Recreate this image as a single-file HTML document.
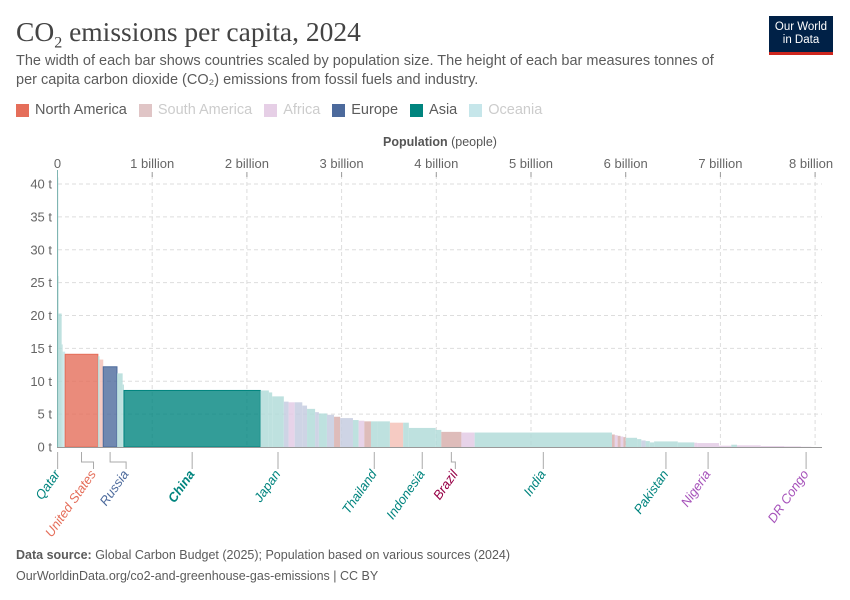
<!DOCTYPE html>
<html><head><meta charset="utf-8">
<style>
body{margin:0;background:#fff;width:850px;height:600px;overflow:hidden;font-family:"Liberation Sans",sans-serif;}
.title{position:absolute;left:16px;top:16px;font-family:"Liberation Serif",serif;font-size:27.5px;color:#444;}
.sub{position:absolute;left:16px;top:52px;width:720px;font-size:14.5px;line-height:19px;color:#5b5b5b;}
.logo{position:absolute;left:769px;top:16px;width:64px;background:#002147;border-bottom:3px solid #ce261e;color:#fff;font-size:11.5px;line-height:13px;text-align:center;padding-top:5px;box-sizing:content-box;height:31px;}
.legend{position:absolute;left:16px;top:102px;font-size:14.5px;display:flex;gap:12px;}
.legend span{display:flex;align-items:center;}
.legend i{display:inline-block;width:13px;height:13px;margin-right:6px;}
.foot{position:absolute;left:16px;font-size:12.5px;color:#5b5b5b;}
</style></head><body>
<div class="title">CO<sub style="font-size:16px">2</sub> emissions per capita, 2024</div>
<div class="sub">The width of each bar shows countries scaled by population size. The height of each bar measures tonnes of per capita carbon dioxide (CO₂) emissions from fossil fuels and industry.</div>
<div class="logo">Our World<br>in Data</div>
<div class="legend">
<span style="color:#5b5b5b"><i style="background:#e56e5a"></i>North America</span>
<span style="color:#ccc"><i style="background:#e0c5c6"></i>South America</span>
<span style="color:#ccc"><i style="background:#e6cfe6"></i>Africa</span>
<span style="color:#5b5b5b"><i style="background:#4c6a9c"></i>Europe</span>
<span style="color:#5b5b5b"><i style="background:#00847e"></i>Asia</span>
<span style="color:#ccc"><i style="background:#c6e6ea"></i>Oceania</span>
</div>
<svg id="chart" width="850" height="600" style="position:absolute;left:0;top:0"></svg>
<div class="foot" style="top:548px"><b>Data source:</b> Global Carbon Budget (2025); Population based on various sources (2024)</div>
<div class="foot" style="top:569px">OurWorldinData.org/co2-and-greenhouse-gas-emissions | CC BY</div>
<script>
const names=["Qatar","Brunei","Gulf states","Saudi Arabia","Australia","United States","Oman","Canada","Russia","South Korea","Taiwan","China","Iran","Malaysia","Japan","Germany","South Africa","Europe A","Europe B","Asia A","Europe C","Asia B","Europe D","South America A","Europe E","Asia C","Africa A","South America B","Thailand","Asia D","Mexico","Asia E","Indonesia","Asia F","Brazil","Egypt","India","South America C","Africa B","South America D","Africa C","South America E","Philippines","Asia G","Europe F","Asia H","Asia I","Pakistan","Bangladesh","Africa D","Nigeria","Ethiopia","Asia J","Africa E","Africa F","Africa G","DR Congo"];
const populations=[3,1,40,10,27,345,17,40,145,60,14,1440,90,35,123,50,65,80,50,85,40,85,75,65,135,60,60,70,70,130,140,60,283,60,212,140,1450,30,30,30,30,25,120,45,45,45,45,250,175,30,230,130,60,250,250,175,110];
const values=[41,26,20.3,15.6,14.5,14.1,13.8,13.3,12.2,11.2,9.5,8.6,8.6,8.3,7.7,6.9,6.8,6.8,6.3,5.8,5.3,5.1,4.9,4.6,4.4,4.1,4.0,3.9,3.9,3.9,3.7,3.7,2.9,2.6,2.3,2.2,2.2,1.9,1.8,1.7,1.6,1.5,1.4,1.2,1.0,0.9,0.7,0.85,0.7,0.65,0.6,0.2,0.35,0.25,0.15,0.1,0.04];
const regions=["AS","AS","AS","AS","OC","NA","AS","NA","EU","AS","AS","AS","AS","AS","AS","EU","AF","EU","EU","AS","EU","AS","EU","SA","EU","AS","AF","SA","AS","AS","NA","AS","AS","AS","SA","AF","AS","SA","AF","SA","AF","SA","AS","AS","EU","AS","AS","AS","AS","AF","AF","AF","AS","AF","AF","AF","AF"];
const labelled=["Qatar","United States","Russia","China","Japan","Thailand","Indonesia","Brazil","India","Pakistan","Nigeria","DR Congo"];
const solid=["United States","Russia","China"];
const yTicks=[0,5,10,15,20,25,30,35,40];
const xTicks=[0,1,2,3,4,5,6,7,8];
const xTickLabels=["0","1 billion","2 billion","3 billion","4 billion","5 billion","6 billion","7 billion","8 billion"];

const X0=57.5,XS=94.7,Y0=447,YS=6.575;
const xs=b=>X0+b*XS, ys=v=>Y0-v*YS;
const full={NA:"#e56e5a",SA:"#b07c7c",AF:"#c79ad0",EU:"#4c6a9c",AS:"#00847e",OC:"#7fc6c9"};
const light={NA:"#f4c2b9",SA:"#d8b0ae",AF:"#e3cbe5",EU:"#c6cde0",AS:"#b3dcd9",OC:"#c6e6ea"};
const labelCol={NA:"#e56e5a",SA:"#970046",AF:"#a652ba",EU:"#4c6a9c",AS:"#00847e",OC:"#18a0a0"};
const svg=document.getElementById('chart');
const NS="http://www.w3.org/2000/svg";
function mk(t,a){const e=document.createElementNS(NS,t);for(const k in a)e.setAttribute(k,a[k]);svg.appendChild(e);return e;}
yTicks.forEach((v,i)=>{
 if(v>0){const g=mk('line',{x1:58,x2:822,y1:ys(v),y2:ys(v),stroke:'#ddd','stroke-dasharray':'4,3'});
 }
 const t=mk('text',{x:52,y:ys(v)+4.5,'text-anchor':'end','font-size':13,fill:'#666'});t.textContent=v+' t';
 
});
xTicks.forEach((b,i)=>{
 if(b>0){const g=mk('line',{x1:xs(b),x2:xs(b),y1:175,y2:447,stroke:'#ddd','stroke-dasharray':'4,3'});
 }
 const tk=mk('line',{x1:xs(b),x2:xs(b),y1:172,y2:177,stroke:'#999'});
 
 const t=mk('text',{x:xs(b)+(b==8?-4:0),y:168,'text-anchor':'middle','font-size':13,fill:'#666'});t.textContent=xTickLabels[i];
 
});
const xt=mk('text',{x:440,y:146,'text-anchor':'middle','font-size':12.5,fill:'#555'});
xt.innerHTML='<tspan font-weight="bold">Population</tspan> (people)';

let cum=0;const mids={};
names.forEach((n,i)=>{
 const b0=cum/1000,b1=(cum+populations[i])/1000;cum+=populations[i];
 const r=regions[i],s=solid.includes(n);
 const rect=mk('rect',{x:xs(b0),y:ys(values[i]),width:Math.max(xs(b1)-xs(b0),0.8),height:values[i]*YS,
  fill:s?full[r]:light[r],'fill-opacity':s?0.8:0.85,stroke:s?full[r]:'none','stroke-width':1});
 
 
 mids[n]={x:(xs(b0)+xs(b1))/2,r:r};
});
const ax=mk('line',{x1:57,x2:822,y1:447.5,y2:447.5,stroke:'#999'});

const yax=mk('line',{x1:57.5,x2:57.5,y1:447,y2:170,stroke:'#7fb5b2','stroke-width':1});

const offsets={"United States":12,"Russia":16,"Brazil":4};
labelled.forEach(n=>{
 const m=mids[n];const off=offsets[n]||0;const lx=m.x+off;
 const p=off?`M${m.x},452 V462 H${lx} V469`:`M${m.x},452 V469`;
 const ln=mk('path',{d:p,stroke:'#aaa',fill:'none'});
 
 const t=mk('text',{x:lx+3,y:474,'text-anchor':'end','font-size':13,'font-style':'italic',
  'font-weight':n=="China"?'bold':'normal',fill:labelCol[m.r],transform:`rotate(-55 ${lx+3} 474)`});
 t.textContent=n;
 
});
</script>
</body></html>
